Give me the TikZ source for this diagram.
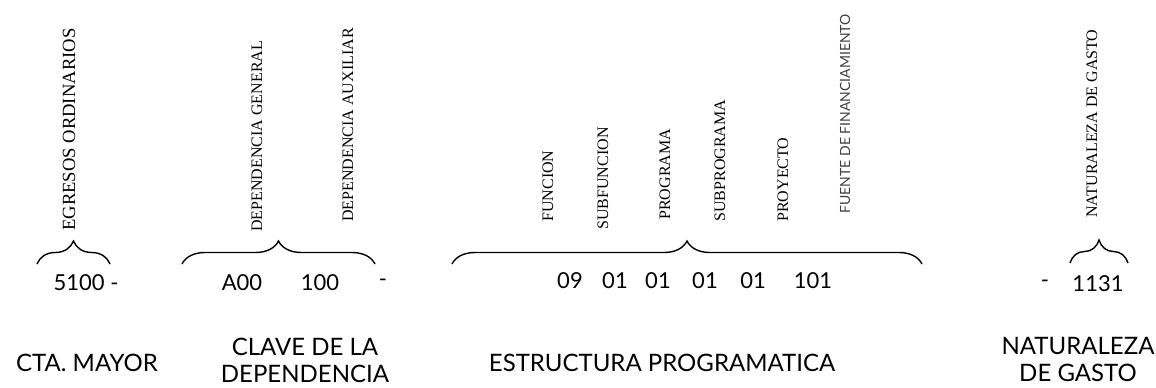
\documentclass[tikz,border=0pt]{standalone}
\usepackage{fontspec}
\setmainfont{Liberation Serif}
\newfontfamily\gill{Lato}
\usetikzlibrary{decorations.pathreplacing}
\tikzset{
    vlabel/.style={rotate=90, anchor=west, inner sep=0pt, font=\fontsize{8}{9}\selectfont},
    code/.style={inner sep=0pt, font=\gill\fontsize{11}{12}\selectfont},
    title/.style={inner sep=0pt, align=center, font=\gill\fontsize{12}{13.5}\selectfont},
    brace/.style={decorate, decoration={brace, amplitude=11.5pt}, line width=0.7pt},
}
\begin{document}
\begin{tikzpicture}[x=0.5pt, y=-0.5pt]
    \useasboundingbox (0, 0) rectangle (1156, 387);
    % vertical labels
    \node[vlabel, font=\fontsize{9.3}{11}\selectfont] (egresos) at (69, 231) {EGRESOS ORDINARIOS};
    \node[vlabel] (depgen) at (257, 232) {DEPENDENCIA GENERAL};
    \node[vlabel] (depaux) at (348, 222) {DEPENDENCIA AUXILIAR};
    \foreach \x/\y/\t/\n in {548/222/FUNCION/fun, 603/230/SUBFUNCION/subfun, 665/220/PROGRAMA/prog,
                             720/222/SUBPROGRAMA/subprog, 783/222/PROYECTO/proy}
        \node[vlabel] (\n) at (\x, \y) {\t};
    \node[vlabel, font=\gill\fontsize{7}{8}\selectfont, black!75] (fuente) at (845, 214) {FUENTE DE FINANCIAMIENTO};
    \node[vlabel] (natlab) at (1092, 218) {NATURALEZA DE GASTO};
    % braces
    \coordinate (b1l) at (37, 264);   \coordinate (b1r) at (110, 264);
    \coordinate (b2l) at (182, 264);  \coordinate (b2r) at (375, 264);
    \coordinate (b3l) at (452, 264);  \coordinate (b3r) at (922, 264);
    \coordinate (b4l) at (1070, 263); \coordinate (b4r) at (1128, 263);
    \draw[brace] (b1l) -- (b1r);
    \draw[brace] (b2l) -- (b2r);
    \draw[brace] (b3l) -- (b3r);
    \draw[brace] (b4l) -- (b4r);
    % codes
    \node[code] (cta) at (86, 283) {5100 -};
    \node[code] (gen) at (242, 283) {A00};
    \node[code] (aux) at (320, 283) {100};
    \node[code] (dash1) at (383, 283) {-};
    \foreach \x/\t [count=\i] in {570/09, 615/01, 658/01, 705/01, 753/01, 813/101}
        \node[code] (num\i) at (\x, 281) {\t};
    \node[code] (dash2) at (1045, 284) {-};
    \node[code] (nat) at (1098, 284) {1131};
    % titles
    \node[title] (ctamayor) at (87, 363) {CTA. MAYOR};
    \node[title] (clave) at (305, 360) {CLAVE DE LA\\DEPENDENCIA};
    \node[title] (estructura) at (662, 363) {ESTRUCTURA PROGRAMATICA};
    \node[title] (naturaleza) at (1078, 359) {NATURALEZA\\DE GASTO};
\end{tikzpicture}
\end{document}
